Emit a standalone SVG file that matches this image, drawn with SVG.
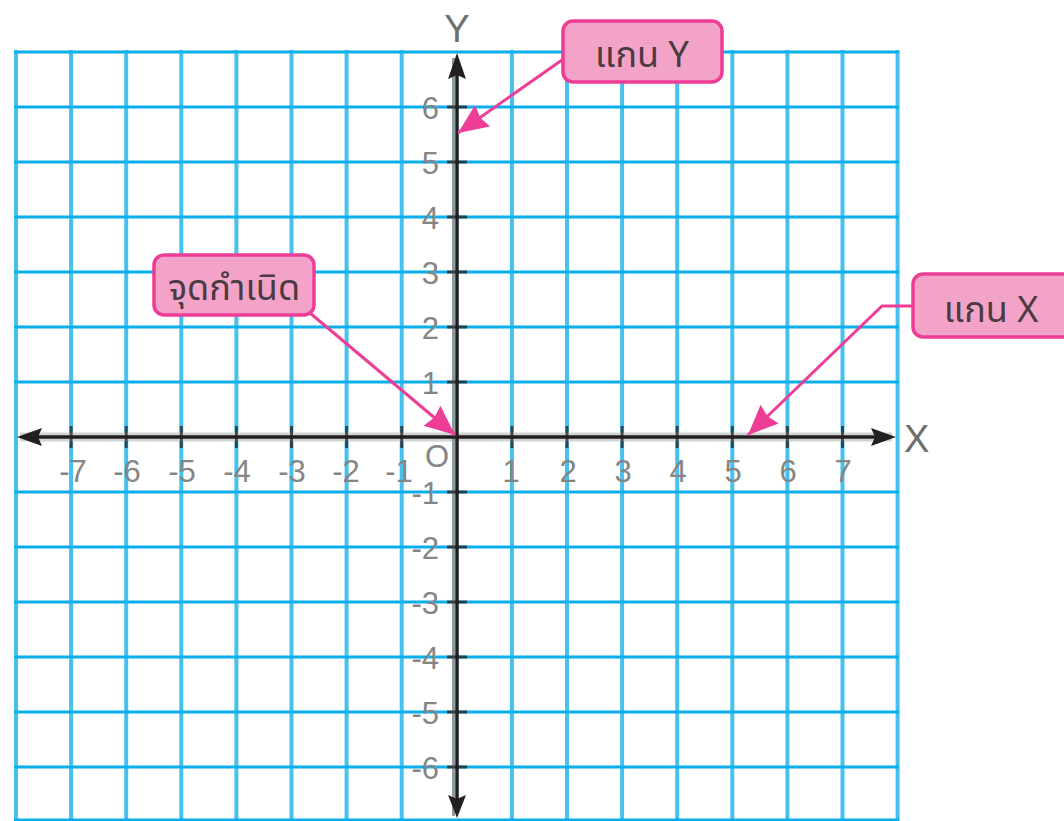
<svg xmlns="http://www.w3.org/2000/svg" width="1064" height="821" viewBox="0 0 1064 821">
<defs>
<style>
.vg{stroke:#45c1f0;stroke-width:4;fill:none}
.hg{stroke:#09afec;stroke-width:3;fill:none}
.ax{stroke:#231f20;stroke-width:3.5;fill:none}
.tk{stroke:#231f20;stroke-width:3;fill:none;opacity:0.75}
.num{font-family:"Liberation Sans Narrow","Liberation Sans",Arial,sans-serif;font-size:31px;fill:#858585}
.axl{font-family:"Liberation Sans Narrow","Liberation Sans",Arial,sans-serif;font-size:38px;fill:#6e6e6e}
.box{fill:#f4a3c8;stroke:#ee3d96;stroke-width:3.5}
.lbl{font-family:"Noto Sans Thai","Noto Sans","DejaVu Sans",sans-serif;font-size:36px;fill:#4a3a42;text-anchor:middle}
.con{stroke:#ee3d96;stroke-width:3;fill:none}
</style>
<marker id="pa" markerUnits="userSpaceOnUse" markerWidth="36" markerHeight="30" refX="30" refY="13" orient="auto" viewBox="0 0 36 30">
<path d="M0,0 L30,13 L0,26 L3,13 z" fill="#ee3d96"/>
</marker>
</defs>
<rect width="1064" height="821" fill="#ffffff"/>
<g id="grid">
<g class="vg">
<line x1="16" y1="50" x2="16" y2="821"/>
<line x1="71.1" y1="50" x2="71.1" y2="821"/>
<line x1="126.2" y1="50" x2="126.2" y2="821"/>
<line x1="181.3" y1="50" x2="181.3" y2="821"/>
<line x1="236.4" y1="50" x2="236.4" y2="821"/>
<line x1="291.5" y1="50" x2="291.5" y2="821"/>
<line x1="346.6" y1="50" x2="346.6" y2="821"/>
<line x1="401.7" y1="50" x2="401.7" y2="821"/>
<line x1="511.9" y1="50" x2="511.9" y2="821"/>
<line x1="567" y1="50" x2="567" y2="821"/>
<line x1="622.1" y1="50" x2="622.1" y2="821"/>
<line x1="677.2" y1="50" x2="677.2" y2="821"/>
<line x1="732.3" y1="50" x2="732.3" y2="821"/>
<line x1="787.4" y1="50" x2="787.4" y2="821"/>
<line x1="842.5" y1="50" x2="842.5" y2="821"/>
<line x1="897.6" y1="50" x2="897.6" y2="821"/>
</g>
<g class="hg">
<line x1="14" y1="52" x2="899" y2="52"/>
<line x1="14" y1="107" x2="899" y2="107"/>
<line x1="14" y1="162" x2="899" y2="162"/>
<line x1="14" y1="217" x2="899" y2="217"/>
<line x1="14" y1="272" x2="899" y2="272"/>
<line x1="14" y1="327" x2="899" y2="327"/>
<line x1="14" y1="382" x2="899" y2="382"/>
<line x1="14" y1="492" x2="899" y2="492"/>
<line x1="14" y1="547" x2="899" y2="547"/>
<line x1="14" y1="602" x2="899" y2="602"/>
<line x1="14" y1="657" x2="899" y2="657"/>
<line x1="14" y1="712" x2="899" y2="712"/>
<line x1="14" y1="767" x2="899" y2="767"/>
<line x1="14" y1="820" x2="899" y2="820"/>
</g>
</g>
<g id="axes">
<line x1="20" y1="437" x2="892" y2="437" stroke="#cfd4d4" stroke-width="9"/>
<line x1="453.5" y1="58" x2="453.5" y2="816" stroke="#8c9ca3" stroke-width="3"/>
<line class="ax" x1="38" y1="437" x2="876" y2="437"/>
<line class="ax" x1="457" y1="74" x2="457" y2="800"/>
<path d="M17,437 L42,428 L38,437 L42,446 z" fill="#231f20"/>
<path d="M896,437 L871,428 L875,437 L871,446 z" fill="#231f20"/>
<path d="M457,53 L448,79 L457,75 L466,79 z" fill="#231f20"/>
<path d="M457,818 L448,795 L457,799 L466,795 z" fill="#231f20"/>
<g class="tk">
<line x1="71.1" y1="426" x2="71.1" y2="448"/>
<line x1="126.2" y1="426" x2="126.2" y2="448"/>
<line x1="181.3" y1="426" x2="181.3" y2="448"/>
<line x1="236.4" y1="426" x2="236.4" y2="448"/>
<line x1="291.5" y1="426" x2="291.5" y2="448"/>
<line x1="346.6" y1="426" x2="346.6" y2="448"/>
<line x1="401.7" y1="426" x2="401.7" y2="448"/>
<line x1="511.9" y1="426" x2="511.9" y2="448"/>
<line x1="567" y1="426" x2="567" y2="448"/>
<line x1="622.1" y1="426" x2="622.1" y2="448"/>
<line x1="677.2" y1="426" x2="677.2" y2="448"/>
<line x1="732.3" y1="426" x2="732.3" y2="448"/>
<line x1="787.4" y1="426" x2="787.4" y2="448"/>
<line x1="842.5" y1="426" x2="842.5" y2="448"/>
<line x1="447" y1="107" x2="467" y2="107"/>
<line x1="447" y1="162" x2="467" y2="162"/>
<line x1="447" y1="217" x2="467" y2="217"/>
<line x1="447" y1="272" x2="467" y2="272"/>
<line x1="447" y1="327" x2="467" y2="327"/>
<line x1="447" y1="382" x2="467" y2="382"/>
<line x1="447" y1="492" x2="467" y2="492"/>
<line x1="447" y1="547" x2="467" y2="547"/>
<line x1="447" y1="602" x2="467" y2="602"/>
<line x1="447" y1="657" x2="467" y2="657"/>
<line x1="447" y1="712" x2="467" y2="712"/>
<line x1="447" y1="767" x2="467" y2="767"/>
</g>
<text class="axl" x="457" y="42" text-anchor="middle">Y</text>
<text class="axl" x="904" y="452">X</text>
<text class="num" x="437" y="467" text-anchor="middle" font-size="29">O</text>
<g class="num" text-anchor="middle">
<text x="73" y="482">-7</text>
<text x="127" y="482">-6</text>
<text x="182" y="482">-5</text>
<text x="237" y="482">-4</text>
<text x="292" y="482">-3</text>
<text x="346" y="482">-2</text>
<text x="399" y="482">-1</text>
<text x="511" y="482">1</text>
<text x="568" y="482">2</text>
<text x="623" y="482">3</text>
<text x="678" y="482">4</text>
<text x="733" y="482">5</text>
<text x="788" y="482">6</text>
<text x="843" y="482">7</text>
</g>
<g class="num" text-anchor="end">
<text x="439" y="118.5">6</text>
<text x="439" y="173.5">5</text>
<text x="439" y="228.5">4</text>
<text x="439" y="283.5">3</text>
<text x="439" y="338.5">2</text>
<text x="439" y="393.5">1</text>
<text x="439" y="503.5">-1</text>
<text x="439" y="558.5">-2</text>
<text x="439" y="613.5">-3</text>
<text x="439" y="668.5">-4</text>
<text x="439" y="723.5">-5</text>
<text x="439" y="778.5">-6</text>
</g>
</g>
<g id="connectors">
<line class="con" x1="562" y1="60" x2="458" y2="133" marker-end="url(#pa)"/>
<line class="con" x1="310" y1="313" x2="455" y2="435" marker-end="url(#pa)"/>
<polyline class="con" points="913,306 882,306 748,435" marker-end="url(#pa)"/>
</g>
<g id="label-y-axis">
<rect class="box" x="563" y="21" width="159" height="61" rx="10"/>
<text class="lbl" x="642" y="67">แกน Y</text>
</g>
<g id="label-origin">
<rect class="box" x="154" y="255" width="160" height="60" rx="10"/>
<text class="lbl" x="234" y="300">จุดกำเนิด</text>
</g>
<g id="label-x-axis">
<rect class="box" x="913" y="274" width="170" height="63" rx="10"/>
<text class="lbl" x="991" y="322">แกน X</text>
</g>
</svg>
